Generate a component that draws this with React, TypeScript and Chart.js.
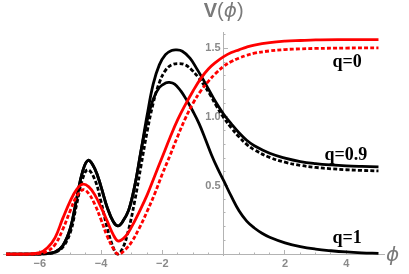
import React, { useEffect, useRef } from 'react';
import { Chart, registerables } from 'chart.js';

Chart.register(...registerables);

// q = 0.9, solid black
const Q09_SOLID_X = [-7.1, -6.2, -5.8, -5.5, -5.25, -5.0, -4.8, -4.6, -4.42, -4.2, -4.0, -3.8, -3.6, -3.45, -3.3, -3.1, -2.9, -2.7, -2.5, -2.3, -2.1, -1.9, -1.7, -1.55, -1.35, -1.1, -0.9, -0.7, -0.5, -0.25, 0, 0.25, 0.5, 0.75, 1.0, 1.5, 2.0, 2.5, 3.0, 3.5, 4.0, 4.5, 5.05];
const Q09_SOLID_Y = [0, 0, 0.003, 0.015, 0.06, 0.19, 0.40, 0.605, 0.684, 0.62, 0.49, 0.34, 0.235, 0.205, 0.235, 0.32, 0.50, 0.75, 1.01, 1.24, 1.38, 1.455, 1.485, 1.49, 1.48, 1.43, 1.36, 1.285, 1.205, 1.105, 1.02, 0.95, 0.885, 0.83, 0.79, 0.735, 0.70, 0.675, 0.66, 0.65, 0.643, 0.639, 0.636];

// q = 0.9, dotted black
const Q09_DOTTED_X = [-7.1, -6.2, -5.8, -5.5, -5.25, -5.0, -4.8, -4.6, -4.43, -4.2, -4.0, -3.8, -3.6, -3.47, -3.3, -3.1, -2.9, -2.7, -2.5, -2.3, -2.1, -1.9, -1.7, -1.45, -1.25, -1.05, -0.85, -0.65, -0.45, -0.25, 0, 0.25, 0.5, 0.75, 1.0, 1.5, 2.0, 2.5, 3.0, 3.5, 4.0, 4.5, 5.05];
const Q09_DOTTED_Y = [0, 0, 0.002, 0.012, 0.05, 0.16, 0.36, 0.55, 0.615, 0.54, 0.38, 0.19, 0.045, 0.0, 0.04, 0.18, 0.39, 0.64, 0.89, 1.10, 1.25, 1.34, 1.38, 1.39, 1.38, 1.345, 1.295, 1.235, 1.165, 1.085, 0.995, 0.92, 0.855, 0.80, 0.76, 0.705, 0.67, 0.647, 0.632, 0.622, 0.615, 0.61, 0.606];

// q = 1, solid black
const Q1_X = [-7.1, -6.2, -5.8, -5.5, -5.25, -5.0, -4.8, -4.6, -4.42, -4.2, -4.0, -3.8, -3.6, -3.45, -3.3, -3.1, -2.9, -2.7, -2.5, -2.3, -2.1, -1.9, -1.77, -1.6, -1.4, -1.2, -1.0, -0.8, -0.6, -0.4, -0.2, 0, 0.25, 0.5, 0.75, 1.0, 1.25, 1.5, 2.0, 2.5, 3.0, 3.5, 4.0, 4.5, 5.05];
const Q1_Y = [0, 0, 0.003, 0.015, 0.06, 0.19, 0.40, 0.605, 0.684, 0.62, 0.49, 0.34, 0.235, 0.205, 0.235, 0.32, 0.50, 0.75, 0.97, 1.13, 1.215, 1.247, 1.252, 1.24, 1.19, 1.12, 1.04, 0.95, 0.84, 0.725, 0.625, 0.535, 0.42, 0.315, 0.24, 0.19, 0.152, 0.123, 0.082, 0.054, 0.036, 0.024, 0.015, 0.009, 0.005];

// q = 0, solid red
const Q0_SOLID_X = [-7.1, -6.4, -6.0, -5.75, -5.5, -5.25, -5.0, -4.8, -4.6, -4.4, -4.2, -4.0, -3.8, -3.6, -3.44, -3.2, -3.0, -2.75, -2.5, -2.25, -2.0, -1.75, -1.5, -1.25, -1.0, -0.75, -0.5, -0.25, 0, 0.25, 0.5, 0.75, 1.0, 1.5, 2.0, 2.5, 3.0, 4.0, 5.05];
const Q0_SOLID_Y = [0, 0, 0.01, 0.045, 0.12, 0.26, 0.39, 0.47, 0.51, 0.49, 0.43, 0.34, 0.24, 0.14, 0.095, 0.13, 0.20, 0.31, 0.43, 0.57, 0.71, 0.85, 0.98, 1.09, 1.19, 1.28, 1.35, 1.40, 1.44, 1.47, 1.49, 1.51, 1.525, 1.543, 1.553, 1.558, 1.562, 1.564, 1.565];

// q = 0, dotted red
const Q0_DOTTED_X = [-7.1, -6.3, -6.0, -5.75, -5.5, -5.25, -5.0, -4.8, -4.58, -4.4, -4.2, -4.0, -3.8, -3.6, -3.44, -3.2, -3.0, -2.75, -2.5, -2.25, -2.0, -1.75, -1.5, -1.25, -1.0, -0.75, -0.5, -0.25, 0, 0.25, 0.5, 0.75, 1.0, 1.5, 2.0, 2.5, 3.0, 4.0, 5.05];
const Q0_DOTTED_Y = [0, 0, 0.004, 0.02, 0.07, 0.18, 0.32, 0.42, 0.47, 0.44, 0.36, 0.25, 0.13, 0.04, 0.0, 0.035, 0.09, 0.19, 0.31, 0.44, 0.585, 0.72, 0.86, 0.99, 1.10, 1.19, 1.26, 1.32, 1.37, 1.405, 1.43, 1.45, 1.465, 1.482, 1.492, 1.497, 1.50, 1.503, 1.504];

// curve annotations
const CURVE_LABELS = ['q=0', 'q=0.9', 'q=1'];
const CURVE_LABEL_X = [3.55, 3.29, 3.55];
const CURVE_LABEL_Y = [1.365, 0.686, 0.077];

const X_MIN = -7.2;
const X_MAX = 5.23;
const Y_MIN = -0.01;
const Y_MAX = 1.62;

const AXIS_GRAY = '#b3b3b3';
const LABEL_GRAY = '#8a8a8a';

const pts = (xs: number[], ys: number[]) => xs.map((x, i) => ({ x, y: ys[i] }));

const annotPlugin = {
  id: 'annot',
  afterDraw(chart: any) {
    const { ctx, chartArea } = chart;
    const xs = chart.scales.x;
    const ys = chart.scales.y;
    ctx.save();
    ctx.fillStyle = '#000';
    ctx.font = 'bold 18px "Liberation Serif"';
    ctx.textAlign = 'left';
    ctx.textBaseline = 'alphabetic';
    CURVE_LABELS.forEach((t, i) => {
      ctx.fillText(t, xs.getPixelForValue(CURVE_LABEL_X[i]), ys.getPixelForValue(CURVE_LABEL_Y[i]));
    });

    // y axis title V(ϕ)
    const runs: [string, string][] = [
      ['V', 'bold 20px "Liberation Sans"'],
      ['(', '20px "Liberation Sans"'],
      ['ϕ', 'italic 20px "DejaVu Sans"'],
      [')', '20px "Liberation Sans"'],
    ];
    let total = 0;
    const widths = runs.map(([t, f]) => {
      ctx.font = f;
      const w = ctx.measureText(t).width;
      total += w;
      return w;
    });
    let cx = xs.getPixelForValue(0) - total / 2;
    ctx.fillStyle = '#7a7a7a';
    runs.forEach(([t, f], i) => {
      ctx.font = f;
      ctx.fillText(t, cx, 17);
      cx += widths[i];
    });

    // x axis title ϕ
    ctx.font = 'italic 20px "DejaVu Sans"';
    ctx.fillText('ϕ', chartArea.right + 2, ys.getPixelForValue(0) + 7);
    ctx.restore();
  },
};

const tickFont = { family: 'Liberation Sans', size: 11, weight: 'bold' as const };

export default function App() {
  const ref = useRef<HTMLCanvasElement | null>(null);
  useEffect(() => {
    if (!ref.current) return;
    const line = (xs: number[], ys: number[], color: string, dashed: boolean) => ({
      data: pts(xs, ys),
      borderColor: color,
      backgroundColor: color,
      borderWidth: 2.8,
      borderDash: dashed ? [4, 2.2] : [],
      borderCapStyle: 'butt' as const,
      pointRadius: 0,
      fill: false,
      tension: 0.4,
      clip: false as const,
    });
    const chart = new Chart(ref.current, {
      type: 'line',
      data: {
        datasets: [
          line(Q0_SOLID_X, Q0_SOLID_Y, '#ff0000', false),
          line(Q0_DOTTED_X, Q0_DOTTED_Y, '#ff0000', true),
          line(Q1_X, Q1_Y, '#000000', false),
          line(Q09_SOLID_X, Q09_SOLID_Y, '#000000', false),
          line(Q09_DOTTED_X, Q09_DOTTED_Y, '#000000', true),
        ],
      },
      options: {
        animation: false,
        responsive: false,
        maintainAspectRatio: false,
        layout: { padding: { left: 3, right: 25, top: 32, bottom: 18.6 } },
        plugins: { legend: { display: false }, tooltip: { enabled: false }, title: { display: false } },
        scales: {
          x: {
            type: 'linear',
            axis: 'x',
            position: { y: 0 } as any,
            min: X_MIN,
            max: X_MAX,
            afterFit: (s: any) => { s.height = 0; },
            ticks: { stepSize: 0.5, includeBounds: false, display: false, autoSkip: false },
            grid: { drawOnChartArea: false, tickLength: -2.5, tickColor: AXIS_GRAY, tickWidth: 1 },
            border: { display: true, color: AXIS_GRAY, width: 1 },
          },
          xMajor: {
            type: 'linear',
            axis: 'x',
            position: { y: 0 } as any,
            min: X_MIN,
            max: X_MAX,
            afterFit: (s: any) => { s.height = 0; },
            ticks: {
              stepSize: 2,
              includeBounds: false,
              autoSkip: false,
              maxRotation: 0,
              padding: 7.5,
              color: LABEL_GRAY,
              font: tickFont,
              callback: (v: any) => (v === 0 ? '' : v < 0 ? '\u2212' + Math.abs(v) : String(v)),
            },
            grid: { drawOnChartArea: false, tickLength: -4, tickColor: AXIS_GRAY, tickWidth: 1 },
            border: { display: false },
          },
          y: {
            type: 'linear',
            axis: 'y',
            position: { x: 0 } as any,
            min: Y_MIN,
            max: Y_MAX,
            afterFit: (s: any) => { s.width = 0; },
            ticks: { stepSize: 0.1, includeBounds: false, display: false, autoSkip: false },
            grid: { drawOnChartArea: false, tickLength: -2.5, tickColor: AXIS_GRAY, tickWidth: 1 },
            border: { display: true, color: AXIS_GRAY, width: 1 },
          },
          yMajor: {
            type: 'linear',
            axis: 'y',
            position: { x: 0 } as any,
            min: Y_MIN,
            max: Y_MAX,
            afterFit: (s: any) => { s.width = 0; },
            ticks: {
              stepSize: 0.5,
              includeBounds: false,
              autoSkip: false,
              color: LABEL_GRAY,
              font: tickFont,
              callback: (v: any) => (v === 0 ? '' : Number(v).toFixed(1) + ' '),
            },
            grid: { drawOnChartArea: false, tickLength: -4, tickColor: AXIS_GRAY, tickWidth: 1 },
            border: { display: false },
          },
        },
      } as any,
      plugins: [annotPlugin],
    });
    return () => chart.destroy();
  }, []);
  return (
    <div style={{ position: 'fixed', left: 0, top: 0, width: 409, height: 274, background: '#fff' }}>
      <canvas ref={ref} width={409} height={274} style={{ width: 409, height: 274, display: 'block' }} />
    </div>
  );
}
